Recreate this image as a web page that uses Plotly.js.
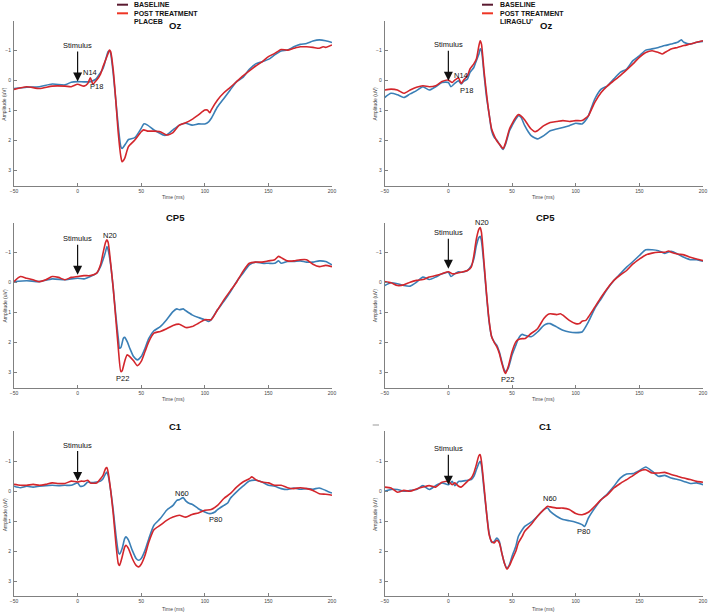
<!DOCTYPE html>
<html>
<head>
<meta charset="utf-8">
<script src="https://cdn.plot.ly/plotly-3.0.1.min.js"></script>
<style>html,body{margin:0;padding:0;background:#fff;}#chart{width:709px;height:614px;}</style>
</head>
<body>
<div id="chart"></div>
<script>
// ---------- DATA ----------
const panelTitles = ["Oz", "Oz", "CP5", "CP5", "C1", "C1"];
const seriesNames = ["BASELINE", "POST TREATMENT"];
const groupNames = ["PLACEB", "LIRAGLU\u2019"];
const xTickVals = [-50, 0, 50, 100, 150, 200];
const yTickVals = [-1, 0, 1, 2, 3];
const xAxisTitle = "Time (ms)";
const yAxisTitle = "Amplitude (uV)";

// Panel 1: Oz, placebo
const t_oz_plac_base = [-50,-40,-30,-20,-10,-5,0,5,10,14,18,20,22,24,25,26,28,30,32,34,35,38,40,45,50,52,55,60,65,68,70,75,80,85,90,95,100,103,105,110,115,120,125,130,135,140,145,150,155,160,165,170,175,180,185,190,195,200];
const v_oz_plac_base = [0.26,0.22,0.2,0.11,0.14,0.05,0.03,0.04,0.03,-0.04,-0.27,-0.41,-0.69,-0.97,-0.99,-0.91,-0.24,0.64,1.53,2.2,2.26,2.09,1.96,1.9,1.59,1.44,1.48,1.64,1.76,1.82,1.81,1.64,1.48,1.42,1.48,1.44,1.44,1.37,1.26,0.87,0.59,0.31,0.03,-0.11,-0.38,-0.56,-0.63,-0.71,-0.86,-0.99,-1.02,-1.13,-1.21,-1.24,-1.32,-1.36,-1.33,-1.27];
const t_oz_plac_post = [-50,-40,-30,-20,-10,-5,0,5,8,10,12,15,18,20,22,24,25,26,28,30,32,34,35,37,40,45,50,52,55,60,65,70,75,80,85,90,95,100,102,104,105,110,115,120,125,130,135,140,145,150,155,160,165,170,175,180,185,190,193,195,200];
const v_oz_plac_post = [0.29,0.2,0.26,0.18,0.18,0.2,0.12,0.18,0.09,-0.1,0.11,-0.02,-0.22,-0.47,-0.69,-0.91,-1.02,-0.97,-0.36,0.64,1.76,2.53,2.7,2.59,2.2,1.98,1.7,1.64,1.68,1.68,1.7,1.81,1.73,1.48,1.4,1.29,1.14,0.98,0.98,1.07,0.98,0.64,0.4,0.22,0.03,-0.16,-0.33,-0.49,-0.63,-0.8,-0.91,-1.04,-1.02,-1.08,-1.13,-1.13,-1.11,-1.08,-1.13,-1.11,-1.19];

// Panel 2: Oz, liraglutide
const t_oz_lira_base = [-50,-45,-40,-35,-30,-25,-20,-15,-10,-5,0,2,5,8,10,12,15,17,20,22,24,25,26,28,30,32,34,36,38,40,43,45,48,50,53,55,57,60,63,65,68,70,75,80,85,90,95,100,105,108,110,115,120,125,130,135,140,145,150,155,160,165,170,175,180,183,185,190,195,200];
const v_oz_lira_base = [0.56,0.42,0.47,0.56,0.44,0.33,0.2,0.31,0.2,0.06,0.06,0.2,0.09,0,0.11,0.02,-0.06,-0.28,-0.44,-0.67,-0.89,-1.06,-1.0,-0.22,0.56,1.11,1.67,1.89,1.98,2.11,2.29,2.11,1.67,1.5,1.28,1.17,1.22,1.5,1.72,1.83,1.91,1.94,1.83,1.67,1.61,1.56,1.5,1.42,1.44,1.31,1.17,0.61,0.28,0.17,-0.06,-0.28,-0.39,-0.67,-0.83,-1.02,-1.06,-1.11,-1.17,-1.22,-1.28,-1.36,-1.28,-1.22,-1.28,-1.31];
const t_oz_lira_post = [-50,-45,-40,-35,-30,-25,-20,-15,-10,-5,0,3,5,8,10,12,15,17,20,22,24,25,26,28,30,32,34,36,38,40,43,45,48,50,53,55,57,60,63,65,68,70,75,80,85,90,95,100,105,108,110,115,120,125,130,135,140,145,150,155,160,165,168,170,175,180,185,190,195,200];
const v_oz_lira_post = [0.31,0.28,0.31,0.42,0.31,0.22,0.17,0.2,0.17,0.03,-0.02,0.06,-0.02,-0.09,0.09,-0.02,-0.17,-0.39,-0.56,-0.72,-1.17,-1.33,-1.22,-0.33,0.44,1.11,1.61,1.83,2.0,2.11,2.26,2.06,1.61,1.44,1.22,1.13,1.17,1.31,1.5,1.61,1.7,1.67,1.5,1.39,1.36,1.33,1.36,1.33,1.33,1.24,1.17,0.72,0.39,0.17,0,-0.17,-0.36,-0.56,-0.78,-0.94,-1.0,-0.94,-0.89,-0.94,-1.06,-1.11,-1.17,-1.22,-1.28,-1.33];

// Panel 3: CP5, placebo
const t_cp5_plac_base = [-50,-40,-30,-20,-10,-5,0,5,10,15,18,20,22,23,24,26,28,30,32,33,34,36,37,39,41,44,47,50,53,56,60,65,70,75,78,80,83,85,90,95,100,103,105,110,115,120,125,130,135,140,145,150,155,158,160,165,170,175,180,185,190,195,200];
const v_cp5_plac_base = [-0.03,-0.06,-0.03,-0.12,-0.09,-0.12,-0.14,-0.12,-0.2,-0.31,-0.53,-0.76,-1.03,-1.2,-1.09,-0.59,0.19,1.08,1.86,2.19,2.17,1.86,1.83,1.97,2.19,2.47,2.58,2.47,2.19,1.86,1.61,1.47,1.24,0.97,0.88,0.91,0.88,0.94,1.08,1.17,1.24,1.3,1.24,0.91,0.63,0.32,-0.03,-0.31,-0.59,-0.68,-0.64,-0.64,-0.64,-0.72,-0.64,-0.7,-0.7,-0.72,-0.68,-0.68,-0.72,-0.7,-0.59];
const t_cp5_plac_post = [-50,-45,-40,-35,-30,-25,-20,-15,-10,-5,0,5,10,15,18,20,22,23,24,26,28,30,32,34,35,37,39,41,44,47,50,53,56,60,65,70,75,80,85,90,95,100,105,110,115,120,125,130,135,140,145,150,155,158,160,165,170,175,180,185,190,195,200];
const v_cp5_plac_post = [-0.03,-0.2,-0.14,-0.09,-0.03,-0.09,-0.2,-0.17,-0.09,-0.17,-0.2,-0.23,-0.23,-0.31,-0.59,-0.98,-1.34,-1.42,-1.34,-0.64,0.19,1.19,2.19,2.97,2.94,2.63,2.41,2.47,2.61,2.77,2.63,2.3,1.97,1.69,1.63,1.54,1.43,1.39,1.5,1.47,1.36,1.24,1.24,0.91,0.58,0.28,-0.01,-0.37,-0.64,-0.68,-0.68,-0.72,-0.76,-0.87,-0.83,-0.72,-0.72,-0.76,-0.76,-0.61,-0.53,-0.57,-0.53];

// Panel 4: CP5, liraglutide
const t_cp5_lira_base = [-50,-45,-40,-35,-30,-25,-20,-15,-10,-5,0,2,5,8,10,15,18,20,22,24,25,26,28,30,32,34,36,38,40,42,44,45,47,50,53,55,58,60,65,70,75,78,80,85,90,95,100,105,110,115,120,125,130,135,140,145,150,155,160,165,170,175,180,185,190,195,200];
const v_cp5_lira_base = [0.1,0.01,0.04,0.1,0.12,-0.01,-0.18,-0.1,-0.18,-0.29,-0.34,-0.2,-0.29,-0.36,-0.34,-0.4,-0.56,-0.78,-1.23,-1.5,-1.54,-1.39,-0.56,0.43,1.31,1.81,1.98,2.09,2.31,2.64,2.92,2.97,2.86,2.42,2.09,1.87,1.73,1.76,1.81,1.65,1.43,1.37,1.37,1.48,1.59,1.65,1.67,1.65,1.31,0.87,0.54,0.21,-0.07,-0.29,-0.51,-0.7,-0.9,-1.09,-1.09,-1.06,-0.97,-1.04,-0.95,-0.84,-0.76,-0.76,-0.71];
const t_cp5_lira_post = [-50,-45,-40,-35,-30,-25,-20,-15,-10,-5,0,3,5,10,15,18,20,22,24,25,26,28,30,32,34,36,38,40,42,44,45,47,50,53,55,58,60,65,70,75,78,80,85,88,90,95,100,103,105,108,110,115,120,125,130,135,140,145,150,155,160,165,170,173,175,180,185,190,195,200];
const v_cp5_lira_post = [-0.03,0.01,0.1,0.08,-0.01,-0.07,-0.1,-0.18,-0.23,-0.29,-0.36,-0.29,-0.29,-0.34,-0.4,-0.51,-0.89,-1.45,-1.78,-1.83,-1.67,-0.67,0.38,1.26,1.81,2.0,2.14,2.36,2.69,2.97,3.03,2.81,2.31,1.98,1.9,1.87,1.87,1.7,1.54,1.2,1.07,1.04,1.07,1.04,1.09,1.26,1.37,1.37,1.29,1.26,1.15,0.82,0.49,0.19,-0.07,-0.25,-0.4,-0.62,-0.78,-0.92,-0.98,-1.01,-1.01,-1.05,-1.01,-0.95,-0.92,-0.84,-0.78,-0.73];

// Panel 5: C1, placebo
const t_c1_plac_base = [-50,-45,-40,-35,-30,-25,-20,-15,-10,-5,0,2,5,8,10,15,18,20,22,23,24,26,28,30,32,33,35,37,38,40,43,46,48,50,53,56,60,65,70,75,78,80,83,85,88,90,95,100,103,105,108,110,115,118,120,125,130,135,140,145,150,155,160,165,170,175,180,185,190,195,200];
const v_c1_plac_base = [-0.17,-0.12,-0.17,-0.14,-0.17,-0.19,-0.2,-0.19,-0.2,-0.2,-0.28,-0.17,-0.19,-0.31,-0.29,-0.31,-0.34,-0.42,-0.59,-0.64,-0.53,-0.03,0.63,1.41,2.02,2.1,1.91,1.58,1.52,1.63,1.97,2.24,2.3,2.24,1.97,1.58,1.13,0.91,0.63,0.47,0.3,0.28,0.21,0.32,0.41,0.43,0.58,0.69,0.74,0.74,0.69,0.61,0.47,0.39,0.24,0.02,-0.17,-0.34,-0.37,-0.31,-0.2,-0.17,-0.09,-0.06,-0.11,-0.07,-0.09,-0.07,-0.11,-0.03,0.06];
const t_c1_plac_post = [-50,-45,-40,-35,-30,-25,-20,-15,-10,-5,0,3,5,8,10,15,18,20,22,23,24,26,28,30,32,33,35,37,38,40,43,46,48,50,53,56,60,65,70,75,80,85,90,95,100,105,110,115,120,125,130,135,137,140,145,150,155,160,165,170,175,180,185,190,195,200];
const v_c1_plac_post = [-0.23,-0.2,-0.2,-0.23,-0.2,-0.23,-0.28,-0.26,-0.26,-0.34,-0.31,-0.34,-0.33,-0.37,-0.28,-0.28,-0.42,-0.53,-0.76,-0.79,-0.64,-0.03,0.74,1.69,2.41,2.47,2.19,1.86,1.8,1.91,2.24,2.47,2.52,2.43,2.13,1.69,1.28,1.13,0.97,0.86,0.8,0.86,0.77,0.72,0.63,0.61,0.47,0.24,0.08,-0.14,-0.31,-0.42,-0.48,-0.39,-0.31,-0.28,-0.2,-0.2,-0.12,-0.09,-0.12,-0.09,-0.03,0.08,0.1,0.13];

// Panel 6: C1, liraglutide
const t_c1_lira_base = [-50,-45,-40,-35,-30,-25,-20,-15,-10,-5,0,3,5,8,10,15,18,20,22,24,25,26,28,30,32,34,36,38,40,42,44,46,48,50,53,55,58,60,65,70,75,78,80,85,90,95,100,105,107,110,115,120,125,130,135,140,145,150,155,160,165,170,175,180,185,190,195,200];
const v_c1_lira_base = [0,-0.06,-0.06,0,-0.03,-0.06,-0.19,-0.06,-0.19,-0.28,-0.22,-0.33,-0.19,-0.33,-0.33,-0.37,-0.39,-0.5,-0.72,-0.94,-1.0,-0.86,-0.06,0.72,1.39,1.7,1.67,1.56,1.67,2.06,2.39,2.56,2.44,2.17,1.83,1.5,1.28,1.17,1.03,0.83,0.61,0.56,0.67,0.83,0.94,0.98,1.03,1.11,1.17,0.89,0.56,0.28,0.08,-0.17,-0.44,-0.58,-0.59,-0.69,-0.81,-0.67,-0.5,-0.53,-0.44,-0.39,-0.33,-0.26,-0.28,-0.22];
const t_c1_lira_post = [-50,-45,-40,-35,-30,-25,-20,-15,-10,-5,0,3,5,8,10,15,18,20,22,24,25,26,28,30,32,34,36,38,40,42,44,46,48,50,53,55,58,60,65,70,75,78,80,85,90,95,100,105,110,115,120,125,130,135,140,145,150,155,160,165,170,175,180,185,190,195,200];
const v_c1_lira_post = [-0.14,-0.11,0.03,-0.03,0,-0.08,-0.14,-0.19,-0.14,-0.3,-0.33,-0.22,-0.28,-0.17,-0.14,-0.33,-0.44,-0.61,-0.89,-1.19,-1.22,-1.0,-0.17,0.72,1.44,1.67,1.72,1.63,1.72,2.06,2.39,2.59,2.48,2.28,2.0,1.72,1.5,1.33,1.11,0.83,0.61,0.5,0.52,0.56,0.56,0.61,0.74,0.78,0.7,0.5,0.28,0.11,-0.11,-0.26,-0.39,-0.52,-0.67,-0.72,-0.61,-0.61,-0.63,-0.56,-0.5,-0.44,-0.39,-0.33,-0.3];

// Stimulus arrow tip amplitude (at t = 0) per panel
const stimulusTip = [0.03, 0.0, -0.26, -0.46, -0.34, -0.22];
// Component labels per panel: [label, time, amplitude]
const peakLabels = [
  [["N14", 10, -0.28], ["P18", 14.5, 0.19]],
  [["N14", 10.2, -0.16], ["P18", 14.5, 0.33]],
  [["N20", 25.5, -1.56], ["P22", 35.4, 3.21]],
  [["N20", 26.1, -1.99], ["P22", 46.4, 3.23]],
  [["N60", 82.3, 0.08], ["P80", 108.8, 0.94]],
  [["N60", 79.8, 0.25], ["P80", 106.5, 1.35]]
];

// ---------- LAYOUT / STYLE ----------
const W = 709, H = 614;
const px = v => v / W, py = v => 1 - v / H;
const FONT = "Liberation Sans, Arial, Helvetica, sans-serif";
const BLUE = "#3a7fb6", RED = "#d3262c";
const LEG_DARK = "#5a1a30", LEG_RED = "#ee3524";

const colX = [[14, 332], [384.7, 703]];
const rowY = [[20.7, 185.7], [222.5, 387.5], [431.3, 596.3]];

const seriesT = [
  [t_oz_plac_base, t_oz_plac_post], [t_oz_lira_base, t_oz_lira_post],
  [t_cp5_plac_base, t_cp5_plac_post], [t_cp5_lira_base, t_cp5_lira_post],
  [t_c1_plac_base, t_c1_plac_post], [t_c1_lira_base, t_c1_lira_post]
];
const seriesV = [
  [v_oz_plac_base, v_oz_plac_post], [v_oz_lira_base, v_oz_lira_post],
  [v_cp5_plac_base, v_cp5_plac_post], [v_cp5_lira_base, v_cp5_lira_post],
  [v_c1_plac_base, v_c1_plac_post], [v_c1_lira_base, v_c1_lira_post]
];

const traces = [];
const layout = {
  width: W, height: H,
  margin: {l: 0, r: 0, t: 0, b: 0, pad: 0},
  paper_bgcolor: "#fff", plot_bgcolor: "rgba(0,0,0,0)",
  showlegend: false,
  font: {family: FONT, color: "#111"},
  annotations: [], shapes: []
};

for (let i = 0; i < 6; i++) {
  const col = i % 2, row = Math.floor(i / 2);
  const xid = i === 0 ? "x" : "x" + (i + 1);
  const yid = i === 0 ? "y" : "y" + (i + 1);
  const xkey = i === 0 ? "xaxis" : "xaxis" + (i + 1);
  const ykey = i === 0 ? "yaxis" : "yaxis" + (i + 1);
  const xd = [px(colX[col][0]), px(colX[col][1])];
  const yd = [py(rowY[row][1]), py(rowY[row][0])];
  const common = {
    showline: true, linecolor: "#808080", linewidth: 1,
    ticks: "inside", ticklen: 3, tickcolor: "#808080", tickwidth: 1,
    showgrid: false, zeroline: false, fixedrange: true,
    tickfont: {family: FONT, size: 5, color: "#444"}
  };
  layout[xkey] = Object.assign({}, common, {domain: xd, anchor: yid, range: [-50, 200], tickmode: "array", tickvals: xTickVals});
  layout[ykey] = Object.assign({}, common, {domain: yd, anchor: xid, range: [3.5, -2], tickmode: "array", tickvals: yTickVals, ticklabelstandoff: 1});

  const colors = [BLUE, RED];
  for (let s = 0; s < 2; s++) {
    traces.push({
      type: "scatter", mode: "lines",
      x: seriesT[i][s], y: seriesV[i][s],
      xaxis: xid, yaxis: yid, name: seriesNames[s],
      line: {color: colors[s], width: 1.6, shape: "spline", smoothing: 0.6},
      hoverinfo: "skip"
    });
  }

  // stimulus arrow
  layout.annotations.push({
    xref: xid, yref: yid, x: 0, y: stimulusTip[i],
    ax: 0, ay: -36, showarrow: true, arrowhead: 2, arrowsize: 1.5, arrowwidth: 1.2,
    arrowcolor: "#111", standoff: 0,
    text: "Stimulus", font: {family: FONT, size: 7.5, color: "#111"}
  });
  // peak labels
  peakLabels[i].forEach(p => layout.annotations.push({
    xref: xid, yref: yid, x: p[1], y: p[2], showarrow: false,
    text: p[0], font: {family: FONT, size: 7.5, color: "#111"}
  }));

  // panel title
  const cx = (colX[col][0] + colX[col][1]) / 2 + 2;
  const titleY = row === 0 ? 25.7 : (row === 1 ? 217.3 : 426.7);
  layout.annotations.push({
    xref: "paper", yref: "paper", x: px(cx), y: py(titleY),
    xanchor: "center", yanchor: "middle", showarrow: false,
    text: "<b>" + panelTitles[i] + "</b>", font: {family: FONT, size: 9.5, color: "#111"}
  });
  // axis titles
  const xtY = row === 0 ? 197.3 : (row === 1 ? 398.7 : 608.6);
  layout.annotations.push({
    xref: "paper", yref: "paper", x: px(cx - 2), y: py(xtY),
    xanchor: "center", yanchor: "middle", showarrow: false,
    text: xAxisTitle, font: {family: FONT, size: 5, color: "#444"}
  });
  const ytX = colX[col][0] - 9.5;
  layout.annotations.push({
    xref: "paper", yref: "paper", x: px(ytX), y: py((rowY[row][0] + rowY[row][1]) / 2 + 1),
    xanchor: "center", yanchor: "middle", showarrow: false, textangle: -90,
    text: yAxisTitle, font: {family: FONT, size: 5, color: "#444"}
  });
}

// legends (drawn above the top panels)
const legendBlocks = [
  {x0: 117, x1: 128, tx: 131.5, group: groupNames[0]},
  {x0: 482, x1: 493, tx: 498, group: groupNames[1]}
];
const legRows = [4.7, 13.3, 21.7];
legendBlocks.forEach(b => {
  [LEG_DARK, LEG_RED].forEach((c, k) => {
    layout.shapes.push({type: "line", xref: "paper", yref: "paper",
      x0: px(b.x0), x1: px(b.x1), y0: py(legRows[k]), y1: py(legRows[k]),
      line: {color: c, width: 2}});
  });
  const texts = [seriesNames[0], seriesNames[1], b.group];
  texts.forEach((t, k) => layout.annotations.push({
    xref: "paper", yref: "paper", x: px(b.tx), y: py(legRows[k]),
    xanchor: "left", yanchor: "middle", showarrow: false,
    text: "<b>" + t + "</b>", font: {family: FONT, size: 7, color: "#111"}
  }));
});
// small stray mark above the lower-right panel
layout.shapes.push({type: "line", xref: "paper", yref: "paper",
  x0: px(372.7), x1: px(379), y0: py(425), y1: py(425), line: {color: "#999", width: 1}});

Plotly.newPlot("chart", traces, layout, {staticPlot: true, displayModeBar: false});
</script>
</body>
</html>
